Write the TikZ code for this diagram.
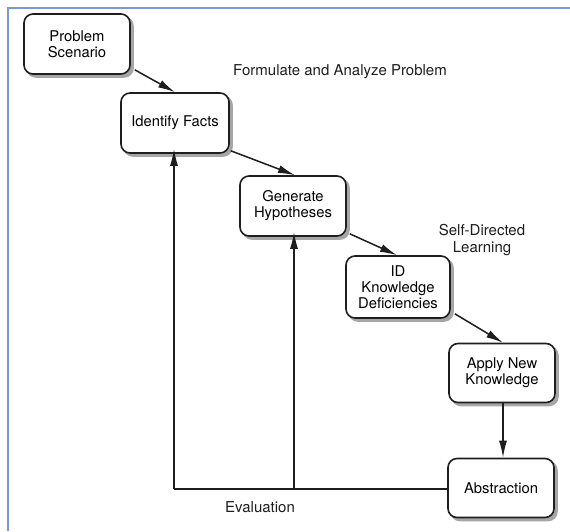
\documentclass[tikz,border=0pt]{standalone}
\usepackage{fontspec}
\setmainfont{TeX Gyre Heros}
\usetikzlibrary{arrows.meta}
\definecolor{framecol}{RGB}{125,150,215}
\definecolor{inkcol}{RGB}{30,30,30}
\begin{document}
\begin{tikzpicture}[x=1pt,y=-1pt,
  stepbox/.style={draw=inkcol,line width=1.6pt,rounded corners=9pt,fill=white,
    minimum width=106pt,minimum height=60pt,align=center,inner sep=2pt,
    font=\fontsize{14.8}{16}\selectfont,
    preaction={draw=gray!70,fill=gray!70,line width=1.6pt,transform canvas={xshift=3pt,yshift=-3pt}}},
  lbl/.style={font=\fontsize{15}{17}\selectfont,align=center,text=inkcol},
  arr/.style={draw=inkcol,line width=1.5pt,-{Latex[length=17pt,width=8pt]}},
  fb/.style={draw=inkcol,line width=1.3pt}]
\useasboundingbox (0,0) rectangle (570,531);
\fill[white] (0,0) rectangle (570,531);
\draw[framecol,line width=2pt] (8,531) -- (8,8) -- (570,8);

\node[stepbox] (ps) at (77,44) {Problem\\Scenario};
\node[stepbox,minimum width=108pt] (idf) at (175,123) {Identify Facts};
\node[stepbox] (gh) at (293,206) {Generate\\Hypotheses};
\node[stepbox,minimum width=104pt,minimum height=62pt] (idk) at (398,287) {ID\\Knowledge\\Deficiencies};
\node[stepbox,minimum height=59pt] (ank) at (502,373) {Apply New\\Knowledge};
\node[stepbox,minimum height=59pt] (abs) at (501,488) {Abstraction};

\node[lbl] (fap) at (340,72) {Formulate and Analyze Problem};
\node[lbl] (sdl) at (482,240) {Self-Directed\\Learning};
\node[lbl] (ev) at (260,507) {Evaluation};

\coordinate (c1) at (174,489);
\coordinate (c2) at (294,489);

\draw[arr] (ps.south east) ++(4,-5) -- (idf.north);
\draw[arr] (idf.south east) ++(1,-3) -- ([xshift=2pt]gh.north);
\draw[arr] (gh.south east) ++(3,-3) -- ([xshift=-1pt]idk.north);
\draw[arr] (idk.south east) ++(4,-5) -- ([xshift=1pt]ank.north);
\draw[arr] ([xshift=1pt]ank.south) -- ([xshift=2pt]abs.north);

\draw[fb] (abs.west |- c1) -- (c1);
\draw[arr] (c1) -- ([yshift=5pt,xshift=-1pt]idf.south);
\draw[arr] (c2) -- ([yshift=5pt,xshift=1pt]gh.south);
\end{tikzpicture}
\end{document}
